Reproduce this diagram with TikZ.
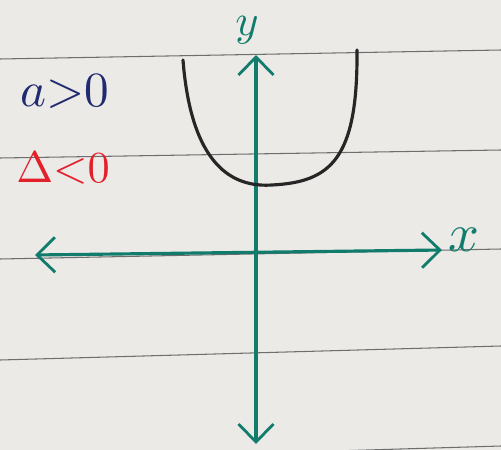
\documentclass[tikz,border=0pt]{standalone}
\usepackage{amsmath}
\usetikzlibrary{arrows.meta}

\definecolor{paper}{HTML}{EBEAE7}
\definecolor{rule}{HTML}{6E6E6E}
\definecolor{axis}{HTML}{127C6C}
\definecolor{navy}{HTML}{1F2A70}
\definecolor{redpen}{HTML}{E3202A}

\begin{document}
\begin{tikzpicture}[x=0.02cm,y=-0.02cm]
    \tikzset{ruled/.style = {draw=rule,line width=0.6pt}}
    \tikzset{axisline/.style = {draw=axis,line width=1.8pt,line cap=round,
        > = {Straight Barb[length=3.6mm,width=7mm,line width=1.6pt]}}}
    \tikzset{curve/.style = {draw=black!85,line width=1.8pt,line cap=round}}
    \tikzset{label/.style = {inner sep=0pt,scale=2.8}}

    % paper
    \fill[paper] (0,0) rectangle (501,450);
    \useasboundingbox (0,0) rectangle (501,450);

    % ruled lines
    \draw[ruled] (0,59) -- (501,50);
    \draw[ruled] (0,158) -- (501,150);
    \draw[ruled] (0,259) -- (501,249);
    \draw[ruled] (0,360) -- (501,346);
    \draw[ruled] (300,452) -- (501,446);

    % axes
    \coordinate (xl) at (35,255);
    \coordinate (xr) at (442,250);
    \coordinate (yt) at (256,55);
    \coordinate (yb) at (256,444);
    \draw[axisline,<->] (xl) -- (xr);
    \draw[axisline,<->] (yb) -- (yt);

    \node[label,text=axis,scale=1.1] (xlab) at (464,240) {$x$};
    \node[label,text=axis,scale=0.9] (ylab) at (247,30) {$y$};

    % parabola
    \draw[curve] (183,60) .. controls (192,175) and (240,187) .. (272,185)
        .. controls (330,182) and (358,160) .. (357,50);

    % conditions
    \node[label,text=navy] (acond) at (65,92) {$a{>}0$};
    \node[label,text=redpen,scale=0.9] (dcond) at (63,168) {$\Delta{<}0$};
\end{tikzpicture}
\end{document}
